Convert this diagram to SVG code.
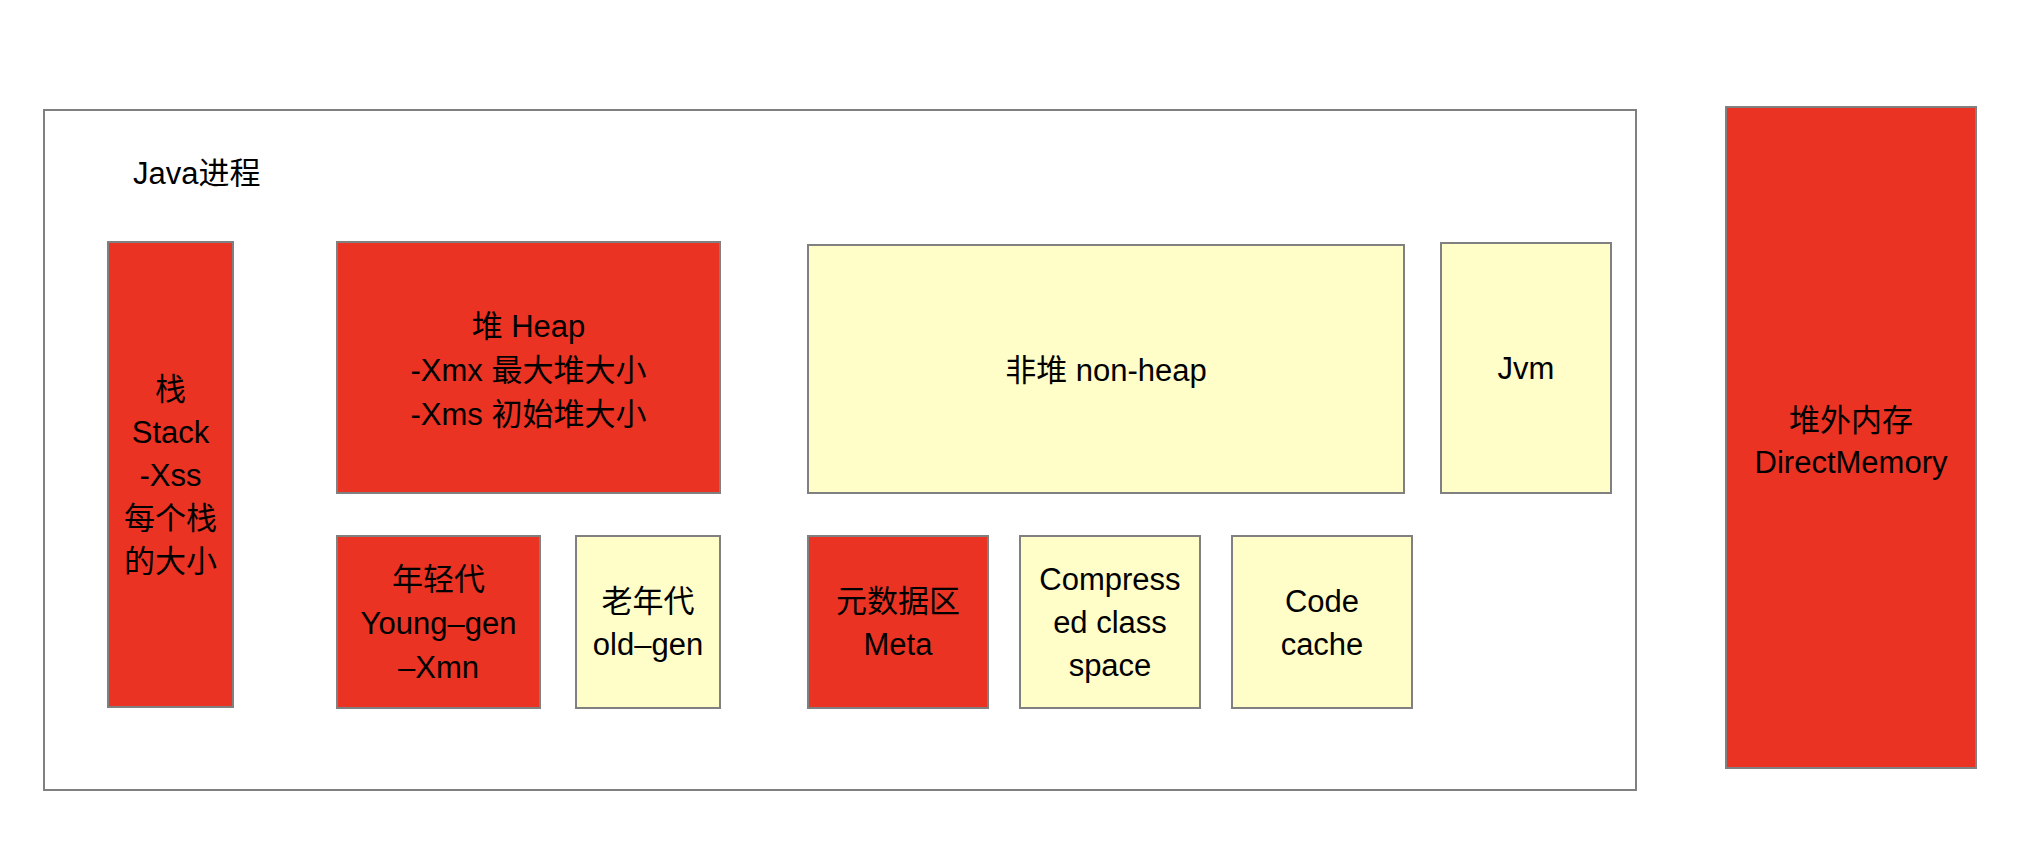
<svg xmlns="http://www.w3.org/2000/svg" width="2042" height="864" viewBox="0 0 2042 864">
<style>
.red{fill:#EB3324;stroke:#808080;stroke-width:2}
.yel{fill:#FFFDC8;stroke:#808080;stroke-width:2}
.frame{fill:#FFFFFF;stroke:#808080;stroke-width:2}
.t{font-family:"Liberation Sans","Noto Sans CJK SC",sans-serif;font-size:31px;fill:#000000;text-anchor:middle}
.tl{font-family:"Liberation Sans","Noto Sans CJK SC",sans-serif;font-size:31px;fill:#000000;text-anchor:start}
</style>
<rect width="2042" height="864" fill="#FFFFFF"/>
<g id="java-process">
<rect class="frame" x="44" y="110" width="1592" height="680"/>
<text class="tl" x="133" y="184">Java进程</text>
</g>
<g id="stack">
<rect class="red" x="108" y="242" width="125" height="465"/>
<text class="t"><tspan x="170.5" y="400">栈</tspan><tspan x="170.5" y="443">Stack</tspan><tspan x="170.5" y="486">-Xss</tspan><tspan x="170.5" y="529">每个栈</tspan><tspan x="170.5" y="572">的大小</tspan></text>
</g>
<g id="heap">
<rect class="red" x="337" y="242" width="383" height="251"/>
<text class="t"><tspan x="528.5" y="337">堆 Heap</tspan><tspan x="528.5" y="381">-Xmx 最大堆大小</tspan><tspan x="528.5" y="425">-Xms 初始堆大小</tspan></text>
</g>
<g id="non-heap">
<rect class="yel" x="808" y="245" width="596" height="248"/>
<text class="t" x="1106" y="381">非堆 non-heap</text>
</g>
<g id="jvm">
<rect class="yel" x="1441" y="243" width="170" height="250"/>
<text class="t" x="1526" y="379">Jvm</text>
</g>
<g id="young-gen">
<rect class="red" x="337" y="536" width="203" height="172"/>
<text class="t"><tspan x="438.5" y="590">年轻代</tspan><tspan x="438.5" y="634">Young–gen</tspan><tspan x="438.5" y="678">–Xmn</tspan></text>
</g>
<g id="old-gen">
<rect class="yel" x="576" y="536" width="144" height="172"/>
<text class="t"><tspan x="648" y="612">老年代</tspan><tspan x="648" y="655">old–gen</tspan></text>
</g>
<g id="meta">
<rect class="red" x="808" y="536" width="180" height="172"/>
<text class="t"><tspan x="898" y="612">元数据区</tspan><tspan x="898" y="655">Meta</tspan></text>
</g>
<g id="compressed-class-space">
<rect class="yel" x="1020" y="536" width="180" height="172"/>
<text class="t"><tspan x="1110" y="590">Compress</tspan><tspan x="1110" y="633">ed class</tspan><tspan x="1110" y="676">space</tspan></text>
</g>
<g id="code-cache">
<rect class="yel" x="1232" y="536" width="180" height="172"/>
<text class="t"><tspan x="1322" y="612">Code</tspan><tspan x="1322" y="655">cache</tspan></text>
</g>
<g id="direct-memory">
<rect class="red" x="1726" y="107" width="250" height="661"/>
<text class="t"><tspan x="1851" y="431">堆外内存</tspan><tspan x="1851" y="473">DirectMemory</tspan></text>
</g>
<g id="connectors"></g>
</svg>
